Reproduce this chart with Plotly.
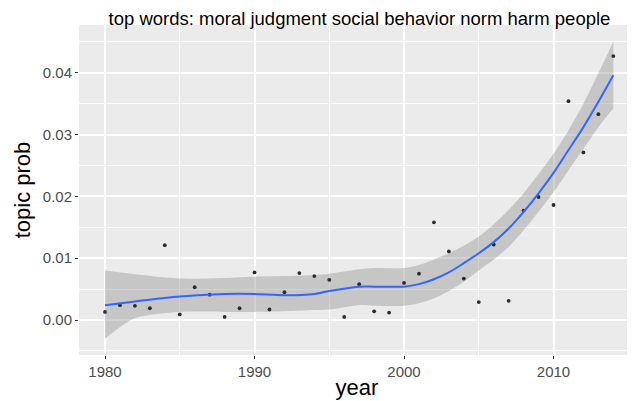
import plotly.graph_objects as go

years = list(range(1980, 2015))
topic_prob = [0.0013, 0.0024, 0.0023, 0.0019, 0.0121, 0.0009, 0.0053, 0.0041, 0.0005, 0.0019,
              0.0077, 0.0017, 0.0045, 0.0076, 0.0071, 0.0065, 0.0005, 0.0058, 0.0014, 0.0012,
              0.0060, 0.0075, 0.0158, 0.0111, 0.0067, 0.0029, 0.0122, 0.0031, 0.0177, 0.0199,
              0.0186, 0.0354, 0.0271, 0.0333, 0.0427]

smooth_years = [1980, 1982, 1985, 1988, 1990, 1992, 1994, 1995, 1997, 1998, 2000, 2001, 2002,
                2003, 2004, 2005, 2006, 2007, 2008, 2009, 2010, 2011, 2012, 2013, 2014]
smooth_fit = [0.0024, 0.0030, 0.0038, 0.0042, 0.0042, 0.0040, 0.0042, 0.0047, 0.0054, 0.0054,
              0.0054, 0.0058, 0.0066, 0.0077, 0.0092, 0.0108, 0.0126, 0.0148, 0.0175, 0.0205,
              0.0238, 0.0275, 0.0312, 0.0353, 0.0396]
smooth_upper = [0.0080, 0.0074, 0.0067, 0.0068, 0.0070, 0.0071, 0.0073, 0.0075, 0.0082, 0.0084,
                0.0084, 0.0089, 0.0098, 0.0108, 0.0120, 0.0135, 0.0155, 0.0178, 0.0205, 0.0236,
                0.0269, 0.0307, 0.0350, 0.0399, 0.0450]
smooth_lower = [-0.0030, 0.0003, 0.0013, 0.0013, 0.0013, 0.0014, 0.0016, 0.0017, 0.0024, 0.0023,
                0.0023, 0.0027, 0.0035, 0.0047, 0.0062, 0.0080, 0.0098, 0.0118, 0.0145, 0.0175,
                0.0207, 0.0242, 0.0277, 0.0312, 0.0342]

title_text = "top words: moral judgment social behavior norm harm people"
x_ticks = [1980, 1990, 2000, 2010]
y_ticks = [0.00, 0.01, 0.02, 0.03, 0.04]

fig = go.Figure()
fig.add_trace(go.Scatter(x=smooth_years, y=smooth_upper, mode="lines",
                         line=dict(width=0, shape="spline", smoothing=0.8),
                         hoverinfo="skip", showlegend=False))
fig.add_trace(go.Scatter(x=smooth_years, y=smooth_lower, mode="lines",
                         line=dict(width=0, shape="spline", smoothing=0.8),
                         fill="tonexty", fillcolor="rgba(153,153,153,0.45)",
                         hoverinfo="skip", showlegend=False))
fig.add_trace(go.Scatter(x=years, y=topic_prob, mode="markers",
                         marker=dict(size=3.8, color="#2b2b2b"), showlegend=False))
fig.add_trace(go.Scatter(x=smooth_years, y=smooth_fit, mode="lines",
                         line=dict(color="#3366FF", width=2, shape="spline", smoothing=0.8),
                         showlegend=False))

fig.update_layout(
    width=627, height=393,
    margin=dict(l=71, r=0, t=17, b=46, autoexpand=False),
    paper_bgcolor="white", plot_bgcolor="#EBEBEB",
    font=dict(family="Liberation Sans, Arial, sans-serif"),
    title=dict(text=title_text, x=0.5606, xanchor="center", y=0.99, yanchor="top",
               font=dict(size=18.5, color="black")),
    xaxis=dict(range=[1978.26, 2015.45], tickvals=x_ticks, ticktext=[str(v) for v in x_ticks],
               showgrid=True, gridcolor="white", gridwidth=1.6, zeroline=False,
               ticks="outside", ticklen=3, tickcolor="#333333", tickwidth=1,
               tickfont=dict(size=15, color="#4D4D4D"), automargin=False,
               minor=dict(tickvals=[1985, 1995, 2005, 2015], showgrid=True, gridcolor="white", gridwidth=0.7, ticks=""),
               title=dict(text="year", font=dict(size=22, color="black"), standoff=0),
               showline=False),
    yaxis=dict(range=[-0.00566, 0.04772], tickvals=y_ticks, ticktext=["0.00", "0.01", "0.02", "0.03", "0.04"],
               showgrid=True, gridcolor="white", gridwidth=1.6, zeroline=False,
               ticks="outside", ticklen=3, tickcolor="#333333", tickwidth=1,
               tickfont=dict(size=15, color="#4D4D4D"), automargin=False,
               minor=dict(tickvals=[-0.005, 0.005, 0.015, 0.025, 0.035, 0.045], showgrid=True, gridcolor="white", gridwidth=0.7, ticks=""),
               title=dict(text="topic prob", font=dict(size=22, color="black"), standoff=6),
               showline=False),
)

fig.write_html("out.html")
